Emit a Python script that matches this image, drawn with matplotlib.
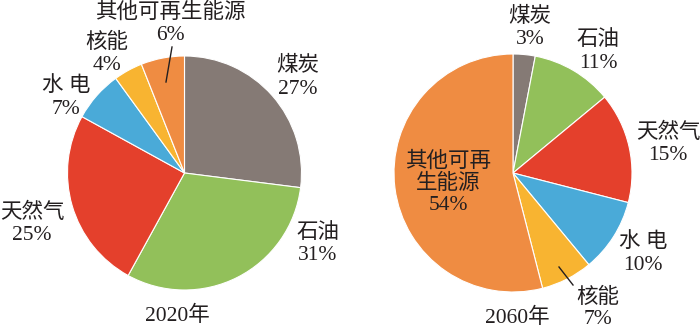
import matplotlib
matplotlib.use("Agg")
import matplotlib.pyplot as plt

plt.rcParams['font.family'] = ['Liberation Serif', 'Noto Sans CJK SC']

# data
sources = ['煤炭', '石油', '天然气', '水电', '核能', '其他可再生能源']
share_2020 = [27, 31, 25, 7, 4, 6]
share_2060 = [3, 11, 15, 10, 7, 54]
colors = ['#857a75', '#92c05a', '#e4402c', '#4aaad8', '#f8b431', '#ef8c42']

W, H = 700, 330
fig = plt.figure(figsize=(7, 3.3), dpi=100)
ax = fig.add_axes([0, 0, 1, 1])

def py(y):
    # pixel row from top -> data y
    return H - y

wedge_style = dict(edgecolor='white', linewidth=0.8)
ax.pie(share_2020, colors=colors, startangle=90, counterclock=False,
       center=(184.5, py(173)), radius=117, wedgeprops=wedge_style, frame=True)
ax.pie(share_2060, colors=colors, startangle=90, counterclock=False,
       center=(513, py(173)), radius=119, wedgeprops=wedge_style, frame=True)
ax.set_xlim(0, W)
ax.set_ylim(0, H)
ax.set_aspect('equal')
ax.axis('off')

fs = 15.5
def lab(x, y, lines, gap=23):
    for i, s in enumerate(lines):
        ax.text(x, py(y + i * gap), s, ha='center', va='center',
                fontsize=fs, color='#231f20')

# 2020 labels
lab(170, 13, [sources[5], f'{share_2020[5]}%'])
lab(107, 43, [sources[4], f'{share_2020[4]}%'])
lab(66, 86, ['水 电', f'{share_2020[3]}%'])
lab(298, 66, [sources[0], f'{share_2020[0]}%'])
lab(32, 213, [sources[2], f'{share_2020[2]}%'])
lab(318, 233, [sources[1], f'{share_2020[1]}%'])
lab(177, 316, ['2020年'])
ax.plot([172, 166], [py(47), py(82)], color='#231f20', lw=1)

# 2060 labels
lab(530, 17, [sources[0], f'{share_2060[0]}%'])
lab(598, 40, [sources[1], f'{share_2060[1]}%'])
lab(668, 133, [sources[2], f'{share_2060[2]}%'])
lab(448, 162, ['其他可再', '生能源', f'{share_2060[5]}%'], gap=21.5)
lab(643, 242, ['水 电', f'{share_2060[3]}%'])
lab(598, 298, [sources[4], f'{share_2060[4]}%'], gap=22)
lab(517, 318, ['2060年'])
ax.plot([559, 573], [py(267), py(285)], color='#231f20', lw=1)

fig.savefig('out.png', dpi=100)
